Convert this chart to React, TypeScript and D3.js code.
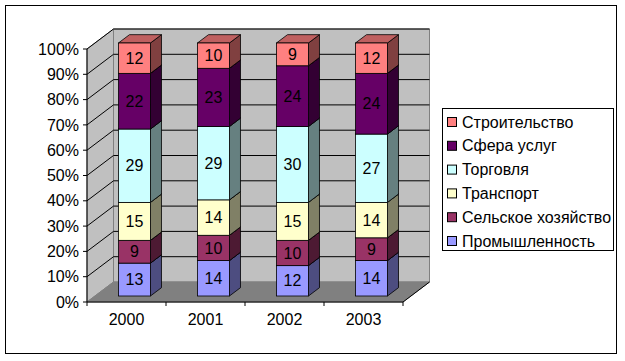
import React from 'react';
import * as d3 from 'd3';

// Data
const years = ['2000', '2001', '2002', '2003'];
const seriesNames = ['Промышленность', 'Сельское хозяйство', 'Транспорт', 'Торговля', 'Сфера услуг', 'Строительство'];
const industry = [13, 14, 12, 14];
const agriculture = [9, 10, 10, 9];
const transport = [15, 14, 15, 14];
const trade = [29, 29, 30, 27];
const services = [22, 23, 24, 24];
const construction = [12, 10, 9, 12];
const yTicks = [0, 0.1, 0.2, 0.3, 0.4, 0.5, 0.6, 0.7, 0.8, 0.9, 1];

const seriesValues = [industry, agriculture, transport, trade, services, construction];
const colors = ['#9999FF', '#993366', '#FFFFCC', '#CCFFFF', '#660066', '#FF8080'];

const FONT = '"Liberation Sans", Arial, sans-serif';
const FS = 16;

function shade(c: string, k: number) {
    const rgb = d3.rgb(c);
    return d3.rgb(rgb.r * k, rgb.g * k, rgb.b * k).formatHex();
}

export default function App() {
    // Setup dimensions of the front plane
    const left = 87, right = 403, top = 49, bottom = 302;
    const depthX = 26.5, depthY = -20;

    const x = d3.scaleBand<string>()
        .domain(years)
        .range([left, right])
        .paddingInner(0.595)
        .paddingOuter(0.2975);

    const y = d3.scaleLinear().domain([0, 1]).range([bottom, top]);

    // depth 0 = front, 1 = back wall
    const depth = d3.scaleLinear().domain([0, 1]).range([0, 1]);
    const px = (xx: number, d: number) => xx + depthX * depth(d);
    const py = (yy: number, d: number) => yy + depthY * depth(d);

    const poly = (pts: [number, number][]) => pts.map(p => p.join(',')).join(' ');

    // stacked values
    const stacked = years.map((yr, i) => {
        const total = d3.sum(seriesValues, s => s[i]);
        let acc = 0;
        return seriesValues.map((s, k) => {
            const y0 = acc / total;
            acc += s[i];
            return { year: yr, k, value: s[i], y0, y1: acc / total };
        });
    });

    const dFront = 0.3, dBack = 0.717;
    const bw = x.bandwidth();

    return (
        <svg width={625} height={361} style={{ position: 'absolute', left: 0, top: 0, background: '#fff' }}
            fontFamily={FONT}>
            <rect x={5.5} y={5.5} width={611} height={348} fill="#fff" stroke="#000" strokeWidth={1} />

            {/* side wall */}
            <polygon points={poly([[px(left, 0), y(0)], [px(left, 1), py(y(0), 1)], [px(left, 1), py(y(1), 1)], [left, y(1)]])}
                fill="#C0C0C0" stroke="#808080" />
            {/* back wall */}
            <polygon points={poly([[px(left, 1), py(y(0), 1)], [px(right, 1), py(y(0), 1)], [px(right, 1), py(y(1), 1)], [px(left, 1), py(y(1), 1)]])}
                fill="#C0C0C0" stroke="#808080" />
            {/* floor */}
            <polygon points={poly([[left, y(0)], [right, y(0)], [px(right, 1), py(y(0), 1)], [px(left, 1), py(y(0), 1)]])}
                fill="#808080" stroke="#808080" />

            {/* gridlines */}
            {yTicks.filter(t => t > 0).map(t => (
                <g key={t}>
                    <line x1={left} y1={y(t)} x2={px(left, 1)} y2={py(y(t), 1)} stroke="#000" />
                    <line x1={px(left, 1)} y1={py(y(t), 1)} x2={px(right, 1)} y2={py(y(t), 1)} stroke="#000" />
                </g>
            ))}
            <line x1={right} y1={y(0)} x2={px(right, 1)} y2={py(y(0), 1)} stroke="#000" />

            {/* axes */}
            <line x1={left} y1={y(0)} x2={left} y2={y(1)} stroke="#000" />
            <line x1={left} y1={y(0)} x2={right} y2={y(0)} stroke="#000" />
            {yTicks.map(t => (
                <g key={t}>
                    <line x1={left - 4} y1={y(t)} x2={left} y2={y(t)} stroke="#000" />
                    <text x={79} y={y(t)} dy="0.35em" textAnchor="end" fontSize={FS}>{`${Math.round(t * 100)}%`}</text>
                </g>
            ))}
            {d3.range(years.length + 1).map(i => {
                const xx = left + (right - left) / years.length * i;
                return <line key={i} x1={xx} y1={y(0)} x2={xx} y2={y(0) + 4} stroke="#000" />;
            })}
            {years.map(yr => (
                <text key={yr} x={(x(yr) as number) + bw / 2} y={319} dy="0.35em" textAnchor="middle" fontSize={FS}>{yr}</text>
            ))}

            {/* bars */}
            {stacked.map(segs => segs.map(s => {
                const x0 = px(x(s.year) as number, dFront);
                const x1 = x0 + bw;
                const yb = py(y(s.y0), dFront);
                const yt = py(y(s.y1), dFront);
                const ddx = depthX * (dBack - dFront);
                const ddy = depthY * (dBack - dFront);
                const c = colors[s.k];
                return (
                    <g key={s.year + s.k} stroke="#000" strokeWidth={0.8}>
                        <polygon points={poly([[x1, yb], [x1 + ddx, yb + ddy], [x1 + ddx, yt + ddy], [x1, yt]])} fill={shade(c, 0.5)} />
                        <polygon points={poly([[x0, yt], [x1, yt], [x1 + ddx, yt + ddy], [x0 + ddx, yt + ddy]])} fill={shade(c, 0.75)} />
                        <rect x={x0} y={yt} width={bw} height={yb - yt} fill={c} />
                        <text x={(x0 + x1) / 2} y={(yt + yb) / 2} dy="0.35em" textAnchor="middle" fontSize={FS}
                            stroke="none" fill="#000">{s.value}</text>
                    </g>
                );
            }))}

            {/* legend */}
            <rect x={442.5} y={108.5} width={171} height={142} fill="#fff" stroke="#000" />
            {seriesNames.map((name, k) => {
                const idx = seriesNames.length - 1 - k;
                const cy = 122 + k * 23.8;
                return (
                    <g key={name}>
                        <rect x={447.5} y={cy - 4.5} width={9} height={9} fill={colors[idx]} stroke="#000" />
                        <text x={462} y={cy} dy="0.35em" fontSize={FS}>{seriesNames[idx]}</text>
                    </g>
                );
            })}
        </svg>
    );
}
